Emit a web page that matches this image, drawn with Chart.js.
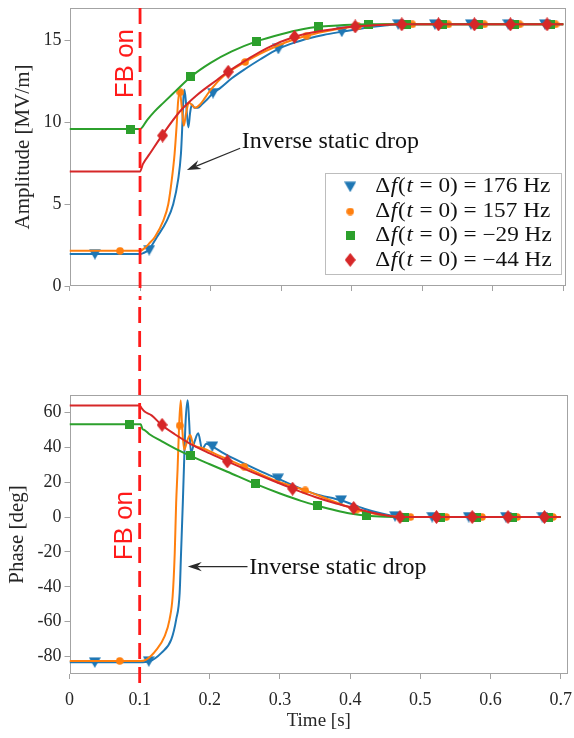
<!DOCTYPE html>
<html>
<head>
<meta charset="utf-8">
<script src="https://cdn.jsdelivr.net/npm/chart.js@4.4.1/dist/chart.umd.min.js"></script>
<style>
html,body{margin:0;padding:0;background:#fff;}
#wrap{position:relative;width:574px;height:738px;overflow:hidden;}
canvas{position:absolute;left:0;}
#c1{top:0;}
#c2{top:300px;}
</style>
</head>
<body>
<div id="wrap">
<canvas id="c1" width="574" height="300"></canvas>
<canvas id="c2" width="574" height="438"></canvas>
</div>
<script>
// ---------------- DATA ----------------
const fbOnTime = 0.1;
const ampTicks = [0, 5, 10, 15];
const phaseTicks = [-80, -60, -40, -20, 0, 20, 40, 60];
const timeTicks = [0, 0.1, 0.2, 0.3, 0.4, 0.5, 0.6, 0.7];
const seriesNames = ['176 Hz', '157 Hz', '\u221229 Hz', '\u221244 Hz'];
const seriesColors = ['#1f77b4', '#ff7f0e', '#2ca02c', '#d62728'];
const annotationText = 'Inverse static drop';
const fbText = 'FB on';

// Amplitude [MV/m] - lines
const ampBlueT = [0, 0.1, 0.105, 0.112, 0.124, 0.138, 0.147, 0.154, 0.158, 0.160, 0.1615, 0.163, 0.1655, 0.1685, 0.171, 0.1735, 0.177, 0.182, 0.1875, 0.195, 0.2035, 0.2135, 0.23, 0.25, 0.27, 0.296, 0.32, 0.34, 0.36, 0.386, 0.41, 0.43, 0.45, 0.466, 0.5, 0.55, 0.6, 0.65, 0.7];
const ampBlueV = [1.95, 1.95, 2.02, 2.2, 3.0, 4.0, 5.0, 6.5, 8.1, 9.9, 11.5, 12.0, 11.0, 9.7, 10.6, 11.1, 10.9, 10.9, 11.1, 11.4, 11.8, 12.1, 12.7, 13.3, 13.85, 14.5, 14.9, 15.15, 15.35, 15.55, 15.72, 15.85, 15.95, 16.0, 16, 16, 16, 16, 16];
const ampOrangeT = [0, 0.1, 0.106, 0.113, 0.121, 0.133, 0.140, 0.145, 0.149, 0.152, 0.154, 0.1565, 0.159, 0.162, 0.165, 0.169, 0.173, 0.178, 0.185, 0.192, 0.2, 0.22, 0.249, 0.27, 0.29, 0.31, 0.336, 0.36, 0.38, 0.409, 0.43, 0.45, 0.5, 0.55, 0.6, 0.65, 0.7];
const ampOrangeV = [2.15, 2.15, 2.3, 2.6, 3.0, 4.0, 5.0, 6.5, 8.1, 9.9, 11.3, 11.9, 11.0, 9.8, 10.5, 11.2, 11.1, 10.9, 11.1, 11.5, 12.0, 12.9, 13.7, 14.2, 14.6, 14.95, 15.3, 15.55, 15.72, 15.88, 15.95, 16, 16, 16, 16, 16, 16];
const ampGreenT = [0, 0.1, 0.11, 0.12, 0.133, 0.15, 0.172, 0.2, 0.23, 0.265, 0.3, 0.33, 0.353, 0.38, 0.4, 0.424, 0.45, 0.5, 0.6, 0.7];
const ampGreenV = [9.6, 9.6, 10.15, 10.65, 11.2, 11.9, 12.8, 13.65, 14.35, 14.96, 15.4, 15.7, 15.85, 15.93, 15.97, 16, 16, 16, 16, 16];
const ampRedT = [0, 0.1, 0.104, 0.114, 0.131, 0.157, 0.18, 0.209, 0.228, 0.25, 0.28, 0.319, 0.35, 0.38, 0.405, 0.43, 0.45, 0.471, 0.5, 0.6, 0.7];
const ampRedV = [7.0, 7.0, 7.45, 8.1, 9.2, 10.7, 11.65, 12.6, 13.2, 13.8, 14.55, 15.24, 15.55, 15.75, 15.87, 15.94, 15.98, 16, 16, 16, 16];

// Amplitude - markers
const ampBlueMT = [0.036, 0.113, 0.2035, 0.296, 0.386, 0.466, 0.518, 0.569, 0.622, 0.674];
const ampBlueMV = [1.95, 2.2, 11.8, 14.5, 15.55, 16, 16, 16, 16, 16];
const ampOrangeMT = [0.0716, 0.157, 0.249, 0.336, 0.409, 0.486, 0.537, 0.588, 0.638, 0.689];
const ampOrangeMV = [2.15, 11.85, 13.7, 15.3, 15.88, 16, 16, 16, 16, 16];
const ampGreenMT = [0.086, 0.172, 0.265, 0.353, 0.424, 0.477, 0.529, 0.58, 0.631, 0.682];
const ampGreenMV = [9.6, 12.8, 14.96, 15.85, 16, 16, 16, 16, 16, 16];
const ampRedMT = [0.132, 0.225, 0.319, 0.405, 0.471, 0.523, 0.574, 0.625, 0.677];
const ampRedMV = [9.2, 13.1, 15.24, 15.87, 16, 16, 16, 16, 16];

// Phase [deg] - lines
const phBlueT = [0, 0.1, 0.114, 0.131, 0.145, 0.152, 0.157, 0.159, 0.1615, 0.163, 0.1655, 0.1685, 0.1705, 0.173, 0.178, 0.1835, 0.189, 0.195, 0.2035, 0.22, 0.25, 0.275, 0.297, 0.32, 0.35, 0.387, 0.42, 0.445, 0.466, 0.5, 0.6, 0.7];
const phBlueV = [-83.3, -83.3, -82.7, -77.9, -70.3, -58.8, -43.5, -20.6, 8, 27, 55, 67, 55, 37, 43, 48, 39, 42, 40.5, 36.5, 30.5, 25.8, 22, 18, 13.3, 9.6, 4.8, 2, 0.4, 0, 0, 0];
const phOrangeT = [0, 0.1, 0.1095, 0.124, 0.1355, 0.1426, 0.147, 0.150, 0.152, 0.154, 0.156, 0.1585, 0.1605, 0.1635, 0.168, 0.172, 0.176, 0.180, 0.19, 0.21, 0.249, 0.29, 0.336, 0.37, 0.409, 0.44, 0.465, 0.486, 0.55, 0.7];
const phOrangeV = [-82.5, -82.5, -81.7, -76, -68.4, -58.8, -45.4, -20.6, 8, 27, 50, 67, 52, 38.6, 44, 47, 42, 40.5, 39.5, 35.8, 28.9, 21.5, 15.3, 10, 4.2, 1.5, 0.3, 0, 0, 0];
const phGreenT = [0, 0.1015, 0.104, 0.107, 0.114, 0.13, 0.15, 0.172, 0.2, 0.225, 0.265, 0.3, 0.33, 0.354, 0.38, 0.40, 0.424, 0.45, 0.477, 0.7];
const phGreenV = [53.2, 53.2, 50.5, 49.9, 47.5, 43.8, 39.4, 35.2, 30.3, 26, 19, 13.5, 9.3, 6.5, 3.8, 2.1, 0.8, 0.2, 0, 0];
const phRedT = [0, 0.1, 0.103, 0.107, 0.117, 0.131, 0.15, 0.171, 0.2, 0.225, 0.26, 0.29, 0.318, 0.35, 0.38, 0.405, 0.43, 0.45, 0.471, 0.7];
const phRedV = [64, 64, 62.3, 60.5, 58.3, 52.9, 47.5, 42.3, 36.5, 31.9, 25.8, 20.8, 16.3, 11.5, 7.8, 5.2, 2.6, 1, 0, 0];

// Phase - markers
const phBlueMT = [0.036, 0.113, 0.2035, 0.297, 0.387, 0.464, 0.517, 0.569, 0.622, 0.674];
const phBlueMV = [-83.3, -82.7, 40.5, 22, 9.6, 0.5, 0, 0, 0, 0];
const phOrangeMT = [0.0716, 0.157, 0.249, 0.336, 0.409, 0.486, 0.537, 0.588, 0.638, 0.689];
const phOrangeMV = [-82.5, 52.5, 28.9, 15.3, 4.2, 0, 0, 0, 0, 0];
const phGreenMT = [0.086, 0.172, 0.265, 0.354, 0.424, 0.477, 0.529, 0.58, 0.631, 0.682];
const phGreenMV = [53.2, 35.2, 19, 6.5, 0.8, 0, 0, 0, 0, 0];
const phRedMT = [0.132, 0.225, 0.318, 0.405, 0.471, 0.523, 0.574, 0.625, 0.677];
const phRedMV = [52.9, 31.9, 16.3, 5.2, 0, 0, 0, 0, 0];

// ---------------- STYLE / HELPERS ----------------
const SERIF = "'Liberation Serif', 'Times New Roman', serif";
const SANS = "'Liberation Sans', Arial, sans-serif";
const AXIS_GRAY = '#a3a3a3';
const TEXT_COL = '#262626';

function pts(t, v) { return t.map((x, i) => ({ x: x, y: v[i] })); }

function markerCanvas(kind, color) {
  const c = document.createElement('canvas');
  let w, h;
  if (kind === 'tri') { w = 12; h = 11; }
  else if (kind === 'circ') { w = 8; h = 8; }
  else if (kind === 'sq') { w = 9; h = 9; }
  else { w = 11; h = 14; }
  c.width = w; c.height = h;
  const g = c.getContext('2d');
  g.fillStyle = color;
  g.beginPath();
  if (kind === 'tri') { g.moveTo(0, 0.5); g.lineTo(w, 0.5); g.lineTo(w / 2, h); g.closePath(); }
  else if (kind === 'circ') { g.arc(w / 2, h / 2, w / 2 - 0.2, 0, Math.PI * 2); }
  else if (kind === 'sq') { g.rect(0, 0, w, h); }
  else { g.moveTo(w / 2, 0); g.lineTo(w, h / 2); g.lineTo(w / 2, h); g.lineTo(0, h / 2); g.closePath(); }
  g.fill();
  return c;
}
const markerImgs = [
  markerCanvas('tri', seriesColors[0]),
  markerCanvas('circ', seriesColors[1]),
  markerCanvas('sq', seriesColors[2]),
  markerCanvas('dia', seriesColors[3])
];

function buildDatasets(lines, marks) {
  const ds = [];
  for (let i = 0; i < 4; i++) {
    const ord = (3 - i) * 2;
    ds.push({
      label: seriesNames[i] + ' (line)',
      data: pts(lines[i][0], lines[i][1]),
      borderColor: seriesColors[i], backgroundColor: seriesColors[i],
      borderWidth: 2, pointRadius: 0, pointHoverRadius: 0, fill: false,
      cubicInterpolationMode: 'monotone', order: ord + 1
    });
    ds.push({
      label: seriesNames[i],
      data: pts(marks[i][0], marks[i][1]),
      showLine: false, pointStyle: markerImgs[i], pointRadius: 5, pointHoverRadius: 5,
      borderColor: seriesColors[i], backgroundColor: seriesColors[i], order: ord
    });
  }
  return ds;
}

function drawArrow(ctx, x1, y1, x2, y2) {
  const a = Math.atan2(y2 - y1, x2 - x1);
  const ux = Math.cos(a), uy = Math.sin(a), nx = -uy, ny = ux;
  const L = 14, W = 4.6, N = 9.5;
  ctx.save();
  ctx.strokeStyle = '#2a2a2a'; ctx.fillStyle = '#2a2a2a'; ctx.lineWidth = 1.2;
  ctx.beginPath(); ctx.moveTo(x1, y1); ctx.lineTo(x2 - ux * N, y2 - uy * N); ctx.stroke();
  ctx.beginPath();
  ctx.moveTo(x2, y2);
  ctx.lineTo(x2 - ux * L + nx * W, y2 - uy * L + ny * W);
  ctx.lineTo(x2 - ux * N, y2 - uy * N);
  ctx.lineTo(x2 - ux * L - nx * W, y2 - uy * L - ny * W);
  ctx.closePath(); ctx.fill();
  ctx.restore();
}

function mathLabel(ctx, x, y, valueText, size, sx, draw) {
  const segs = [['\u0394', 'n'], ['f', 'i'], ['(', 'n'], ['t', 'i'], ['=', 'op'], ['0)', 'n'], ['=', 'op'], [valueText, 'n']];
  ctx.save();
  ctx.translate(x, y); ctx.scale(sx, 1);
  ctx.textBaseline = 'middle'; ctx.textAlign = 'left';
  let cx = 0;
  for (const [s, k] of segs) {
    ctx.font = (k === 'i' ? 'italic ' : '') + size + 'px ' + SERIF;
    const pad = k === 'op' ? size * 0.25 : 0;
    cx += pad;
    if (k === 'i') cx += 0.5;
    if (draw) ctx.fillText(s, cx, 0);
    cx += ctx.measureText(s).width + pad;
    if (k === 'i') cx += 0.8;
  }
  ctx.restore();
  return cx;
}

function makePlugin(cfg) {
  return {
    id: 'deco_' + cfg.name,
    beforeDatasetsDraw(chart) {
      const { ctx, chartArea: a } = chart;
      ctx.save();
      ctx.strokeStyle = AXIS_GRAY; ctx.lineWidth = 1;
      const l = Math.round(a.left) + 0.5, r = Math.round(a.right) - 0.5;
      const t = Math.round(a.top) + 0.5, b = Math.round(a.bottom) - 0.5;
      ctx.strokeRect(l, t, r - l, b - t);
      ctx.restore();
    },
    afterDatasetsDraw(chart) {
      const { ctx, chartArea: a, scales } = chart;
      const xs = scales.x, ys = scales.y;
      // FB on dashed line
      const xv = xs.getPixelForValue(fbOnTime);
      ctx.save();
      ctx.strokeStyle = '#ff1a1a'; ctx.lineWidth = 2.8;
      ctx.setLineDash([16, 8]); ctx.lineDashOffset = cfg.dashOffset;
      ctx.beginPath();
      ctx.moveTo(xv, cfg.lineFromTop ? a.top : 0);
      ctx.lineTo(xv, cfg.lineFromTop ? chart.height : a.bottom + 9);
      ctx.stroke();
      ctx.restore();
      // FB on text
      ctx.save();
      ctx.translate(xs.getPixelForValue(cfg.fbPos[0]), ys.getPixelForValue(cfg.fbPos[1]));
      ctx.rotate(-Math.PI / 2);
      ctx.fillStyle = '#ff1a1a';
      ctx.font = '26px ' + SANS;
      ctx.textAlign = 'center'; ctx.textBaseline = 'middle';
      ctx.fillText(fbText, 0, 0);
      ctx.restore();
      // annotation
      drawArrow(ctx, xs.getPixelForValue(cfg.arrow[0]), ys.getPixelForValue(cfg.arrow[1]),
                xs.getPixelForValue(cfg.arrow[2]), ys.getPixelForValue(cfg.arrow[3]));
      ctx.save();
      ctx.fillStyle = '#111';
      ctx.font = '24px ' + SERIF;
      ctx.textAlign = 'left'; ctx.textBaseline = 'middle';
      ctx.fillText(annotationText, xs.getPixelForValue(cfg.textPos[0]), ys.getPixelForValue(cfg.textPos[1]));
      ctx.restore();
    },
    afterDraw(chart) {
      if (!cfg.legend) return;
      const { ctx, chartArea: a } = chart;
      const boxW = 235.5, boxH = 101;
      const bx = a.right - 5.3 - boxW, by = a.bottom - 11.7 - boxH;
      ctx.save();
      ctx.fillStyle = 'rgba(255,255,255,0.9)';
      ctx.fillRect(bx, by, boxW, boxH);
      ctx.strokeStyle = '#bdbdbd'; ctx.lineWidth = 1;
      ctx.strokeRect(Math.round(bx) + 0.5, Math.round(by) + 0.5, Math.round(boxW), Math.round(boxH));
      const size = 20;
      const natural = mathLabel(ctx, 0, 0, seriesNames[0], size, 1, false);
      const sx = 175 / natural;
      const rowY = [13.4, 38.2, 62.4, 86.6];
      for (let i = 0; i < 4; i++) {
        const img = markerImgs[i];
        const cy = by + rowY[i];
        ctx.drawImage(img, bx + 25 - img.width / 2, cy - img.height / 2);
        ctx.fillStyle = '#111';
        mathLabel(ctx, bx + 50, cy + 0.5, seriesNames[i], size, sx, true);
      }
      ctx.restore();
    }
  };
}

function zeroPad(s) { s.paddingLeft = 0; s.paddingRight = 0; s.paddingTop = 0; s.paddingBottom = 0; }

function makeOptions(cfg) {
  const grid = { drawOnChartArea: false, drawTicks: true, tickLength: 5, color: AXIS_GRAY, tickColor: AXIS_GRAY, lineWidth: 1 };
  return {
    responsive: false, animation: false, devicePixelRatio: 1, events: [],
    layout: { padding: { top: cfg.padTop, right: cfg.padRight, left: 0, bottom: 0 } },
    plugins: { legend: { display: false }, tooltip: { enabled: false } },
    scales: {
      x: {
        type: 'linear', min: 0, max: cfg.xMax,
        afterBuildTicks: s => { s.ticks = timeTicks.map(v => ({ value: v })); },
        afterFit: s => { s.height = cfg.xHeight; zeroPad(s); },
        grid: grid, border: { display: false },
        ticks: { display: cfg.xLabels, padding: 10, font: { family: SERIF, size: 18 }, color: TEXT_COL, maxRotation: 0, autoSkip: false, callback: v => String(v) },
        title: { display: !!cfg.xTitle, text: cfg.xTitle || '', font: { family: SERIF, size: 19 }, color: TEXT_COL, padding: { top: 0, bottom: 6 } }
      },
      y: {
        type: 'linear', min: cfg.yMin, max: cfg.yMax,
        afterBuildTicks: s => { s.ticks = cfg.yTicks.map(v => ({ value: v })); },
        afterFit: s => { s.width = 69.5; zeroPad(s); },
        grid: grid, border: { display: false },
        ticks: { padding: 3, font: { family: SERIF, size: 18 }, color: TEXT_COL, autoSkip: false, callback: v => String(v) },
        title: { display: true, text: cfg.yTitle, font: { family: SERIF, size: 21 }, color: TEXT_COL, padding: { top: cfg.yTitlePad, bottom: 0 } }
      }
    }
  };
}

// ---------------- CHARTS ----------------
const ampCfg = {
  name: 'amp', padTop: 8, padRight: 8, xMax: 0.7038, xHeight: 14, xLabels: false,
  yMin: 0, yMax: 17, yTicks: ampTicks, yTitle: 'Amplitude [MV/m]', yTitlePad: 11,
  lineFromTop: true, dashOffset: 0, legend: true,
  fbPos: [0.0803, 13.6], arrow: [0.2419, 8.42, 0.1664, 7.1], textPos: [0.2443, 8.83]
};
const phCfg = {
  name: 'ph', padTop: 95, padRight: 3.3, xMax: 0.7105, xHeight: 64, xLabels: true, xTitle: 'Time [s]',
  yMin: -90, yMax: 70, yTicks: phaseTicks, yTitle: 'Phase [deg]', yTitlePad: 5,
  lineFromTop: false, dashOffset: 17, legend: false,
  fbPos: [0.079, -4.9], arrow: [0.2537, -28.4, 0.1686, -28.4], textPos: [0.2561, -28.8]
};

new Chart(document.getElementById('c1'), {
  type: 'line',
  data: {
    datasets: buildDatasets(
      [[ampBlueT, ampBlueV], [ampOrangeT, ampOrangeV], [ampGreenT, ampGreenV], [ampRedT, ampRedV]],
      [[ampBlueMT, ampBlueMV], [ampOrangeMT, ampOrangeMV], [ampGreenMT, ampGreenMV], [ampRedMT, ampRedMV]])
  },
  options: makeOptions(ampCfg),
  plugins: [makePlugin(ampCfg)]
});

new Chart(document.getElementById('c2'), {
  type: 'line',
  data: {
    datasets: buildDatasets(
      [[phBlueT, phBlueV], [phOrangeT, phOrangeV], [phGreenT, phGreenV], [phRedT, phRedV]],
      [[phBlueMT, phBlueMV], [phOrangeMT, phOrangeMV], [phGreenMT, phGreenMV], [phRedMT, phRedMV]])
  },
  options: makeOptions(phCfg),
  plugins: [makePlugin(phCfg)]
});
</script>
</body>
</html>
